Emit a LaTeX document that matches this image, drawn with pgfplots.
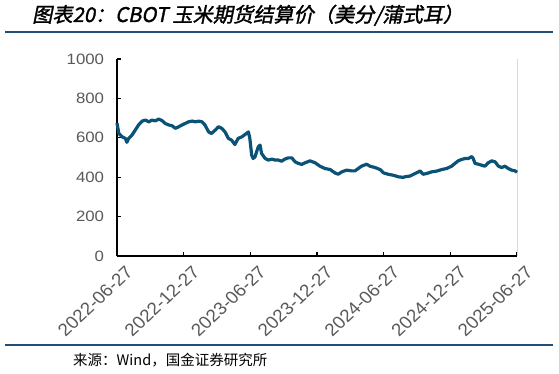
\documentclass[border=0pt]{standalone}
\usepackage{pgfplots}
\pgfplotsset{compat=1.18}
\usepackage{fontspec}
\setmainfont{Liberation Sans}
\newfontfamily\cjk{Noto Sans CJK SC}
\newfontfamily\cjkt[FakeSlant=0.2,FakeBold=1.5]{Noto Sans CJK SC}
\definecolor{linec}{HTML}{0B5277}
\definecolor{rulec}{HTML}{1F4E79}
\definecolor{tickc}{HTML}{595959}
\pgfplotstableread{
d v
0 675
5 622
14 605
23 597
27 577
32 597
41 614
50 639
59 665
69 685
78 690
87 681
96 690
105 686
114 695
123 688
132 673
142 665
151 661
160 648
169 656
178 665
187 673
196 681
206 685
215 681
224 685
233 681
241 665
251 630
259 622
269 639
278 656
287 648
296 630
305 597
314 588
323 566
332 597
342 605
351 617
360 630
364 597
369 512
373 495
378 503
387 554
392 563
396 521
406 495
415 487
424 492
433 487
442 487
451 481
460 492
469 498
479 498
488 478
497 470
506 465
515 473
529 483
543 473
556 456
570 444
584 439
597 422
606 415
616 427
629 436
643 432
652 432
661 444
670 456
684 466
693 456
707 449
721 439
730 422
743 415
757 410
771 402
784 399
789 402
803 406
817 419
826 427
830 432
839 415
849 419
862 427
876 431
890 439
903 444
917 456
926 470
935 483
944 490
954 495
963 495
972 505
976 495
981 470
990 466
999 461
1008 456
1017 473
1027 483
1036 478
1045 456
1054 449
1063 456
1072 444
1081 436
1091 432
1096 425
}\corn
\begin{document}
\begin{tikzpicture}
\useasboundingbox (0pt,0pt) rectangle (559pt,373pt);
\node[anchor=base west, inner sep=0] at (32pt,351pt) {\cjkt\fontsize{20.2}{22}\selectfont 图表20：CBOT 玉米期货结算价（美分/蒲式耳）};
\draw[rulec, line width=1.2pt] (5pt,341pt) -- (553pt,341pt);
\draw[rulec, line width=1.2pt] (5pt,28pt) -- (553pt,28pt);
\node[anchor=base west, inner sep=0] at (73pt,8pt) {\cjk\fontsize{14.5}{15}\selectfont 来源：Wind，国金证券研究所};
\begin{axis}[
  at={(117pt,117pt)}, anchor=south west,
  width=400pt, height=197pt, scale only axis,
  xmin=0, xmax=1096, ymin=0, ymax=1000,
  axis x line*=bottom, axis y line*=left,
  axis line style={black, line width=1.3pt},
  ytick={0,200,400,600,800,1000},
  xtick={0,183,365,548,731,914,1096},
  xticklabels={2022-06-27,2022-12-27,2023-06-27,2023-12-27,2024-06-27,2024-12-27,2025-06-27},
  tick align=inside,
  major tick length=4pt,
  every tick/.style={black, line width=1.2pt},
  /pgf/number format/assume math mode=true,
  /pgf/number format/1000 sep={},
  tick label style={text=tickc},
  yticklabel style={font=\fontsize{15}{16}\selectfont, xscale=1.12, xshift=-8pt},
  xticklabel style={font=\fontsize{17.5}{18}\selectfont, xscale=1.08, rotate=45, anchor=north east, yshift=-8pt, xshift=2pt},
  clip=false,
]
\draw[black!15, line width=0.8pt] (rel axis cs:1,0) -- (rel axis cs:1,1);
\addplot[linec, line width=3.2pt, line join=round, mark=none] table[x=d, y=v] {\corn};
\end{axis}
\end{tikzpicture}
\end{document}
